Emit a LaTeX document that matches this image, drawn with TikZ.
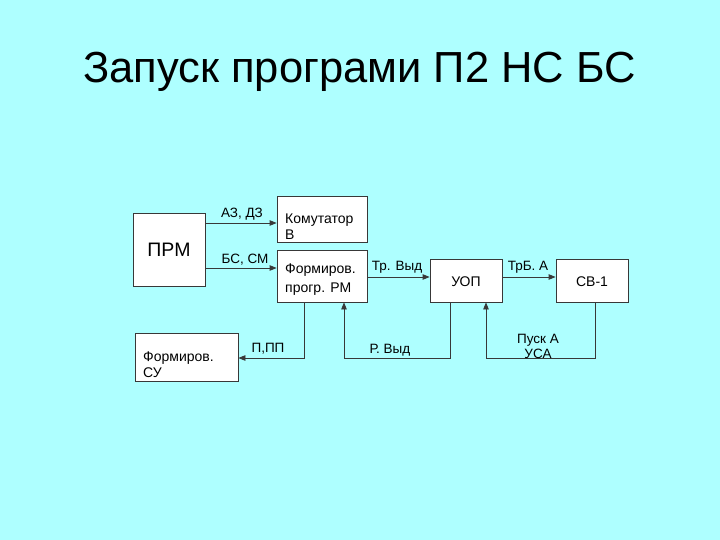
\documentclass[tikz,border=0pt]{standalone}
\usepackage{fontspec}
\setmainfont{Liberation Sans}
\usetikzlibrary{arrows.meta}
\definecolor{bgc}{HTML}{AEFFFF}
\definecolor{ln}{HTML}{383838}
\begin{document}
\begin{tikzpicture}[x=1pt,y=-1pt,
  blk/.style={draw=ln,fill=white,line width=0.8pt,inner sep=0pt},
  lbl/.style={font=\fontsize{13.5}{15}\selectfont,inner sep=0pt},
  arr/.style={draw=ln,line width=0.8pt,-{Triangle[length=7pt,width=5.5pt]}},
  wire/.style={draw=ln,line width=0.8pt}]
\fill[bgc] (0,0) rectangle (720,540);
\useasboundingbox (0,0) rectangle (720,540);
\node[inner sep=0pt,anchor=base,font=\fontsize{43.5}{48}\selectfont] (title) at (359.5,83) {Запуск програми П2 НС БС};
% boxes
\node[blk,minimum width=72pt,minimum height=73pt] (prm) at (169,249.5) {};
\node[lbl,anchor=base,font=\fontsize{19.5}{22}\selectfont] (prmt) at (169,256) {ПРМ};
\node[blk,minimum width=90pt,minimum height=46pt] (kom) at (322,219) {};
\node[lbl,anchor=base west,align=left,font=\fontsize{14}{16}\selectfont] (komt) at (285,240) {Комутатор\\В};
\node[blk,minimum width=90pt,minimum height=52pt] (frm) at (322,276) {};
\node[lbl,anchor=base west,align=left,font=\fontsize{14}{19}\selectfont] (frmt) at (285,292) {Формиров.\\прогр. РМ};
\node[blk,minimum width=72pt,minimum height=43pt] (uop) at (466,280.5) {};
\node[lbl,anchor=base,font=\fontsize{14}{16}\selectfont] (uopt) at (466,286) {УОП};
\node[blk,minimum width=72pt,minimum height=43pt] (sv) at (592,280.5) {};
\node[lbl,anchor=base,font=\fontsize{14}{16}\selectfont] (svt) at (592,286) {СВ-1};
\node[blk,minimum width=103pt,minimum height=48pt] (su) at (186.5,357) {};
\node[lbl,anchor=base west,align=left,font=\fontsize{14}{16}\selectfont] (sut) at (143,377) {Формиров.\\СУ};
% coordinates
\coordinate (c1) at (304,358);
\coordinate (c2) at (450,358);
\coordinate (c3) at (344,358);
\coordinate (c4) at (595,358);
\coordinate (c5) at (486,358);
% connectors
\draw[arr] (prm.east |- 0,223) -- (kom.west |- 0,223);
\node[lbl] (l1) at (242,214) {АЗ, ДЗ};
\draw[arr] (prm.east |- 0,268) -- (frm.west |- 0,268);
\node[lbl] (l2) at (245,260) {БС, СМ};
\draw[arr] (frm.east |- 0,277) -- (uop.west |- 0,277);
\node[lbl] (l3) at (397,267) {Тр. Выд};
\draw[arr] (uop.east |- 0,277) -- (sv.west |- 0,277);
\node[lbl] (l4) at (528,267) {ТрБ. А};
\draw[arr] (frm.south -| c1) -- (c1) -- (su.east |- c1);
\node[lbl] (l5) at (268,349) {П,ПП};
\draw[arr] (uop.south -| c2) -- (c2) -- (c3) -- (frm.south -| c3);
\node[lbl] (l6) at (390,350) {Р. Выд};
\draw[arr] (sv.south -| c4) -- (c4) -- (c5) -- (uop.south -| c5);
\node[lbl,align=center] (l7) at (538,346) {Пуск А\\УСА};
\end{tikzpicture}
\end{document}
